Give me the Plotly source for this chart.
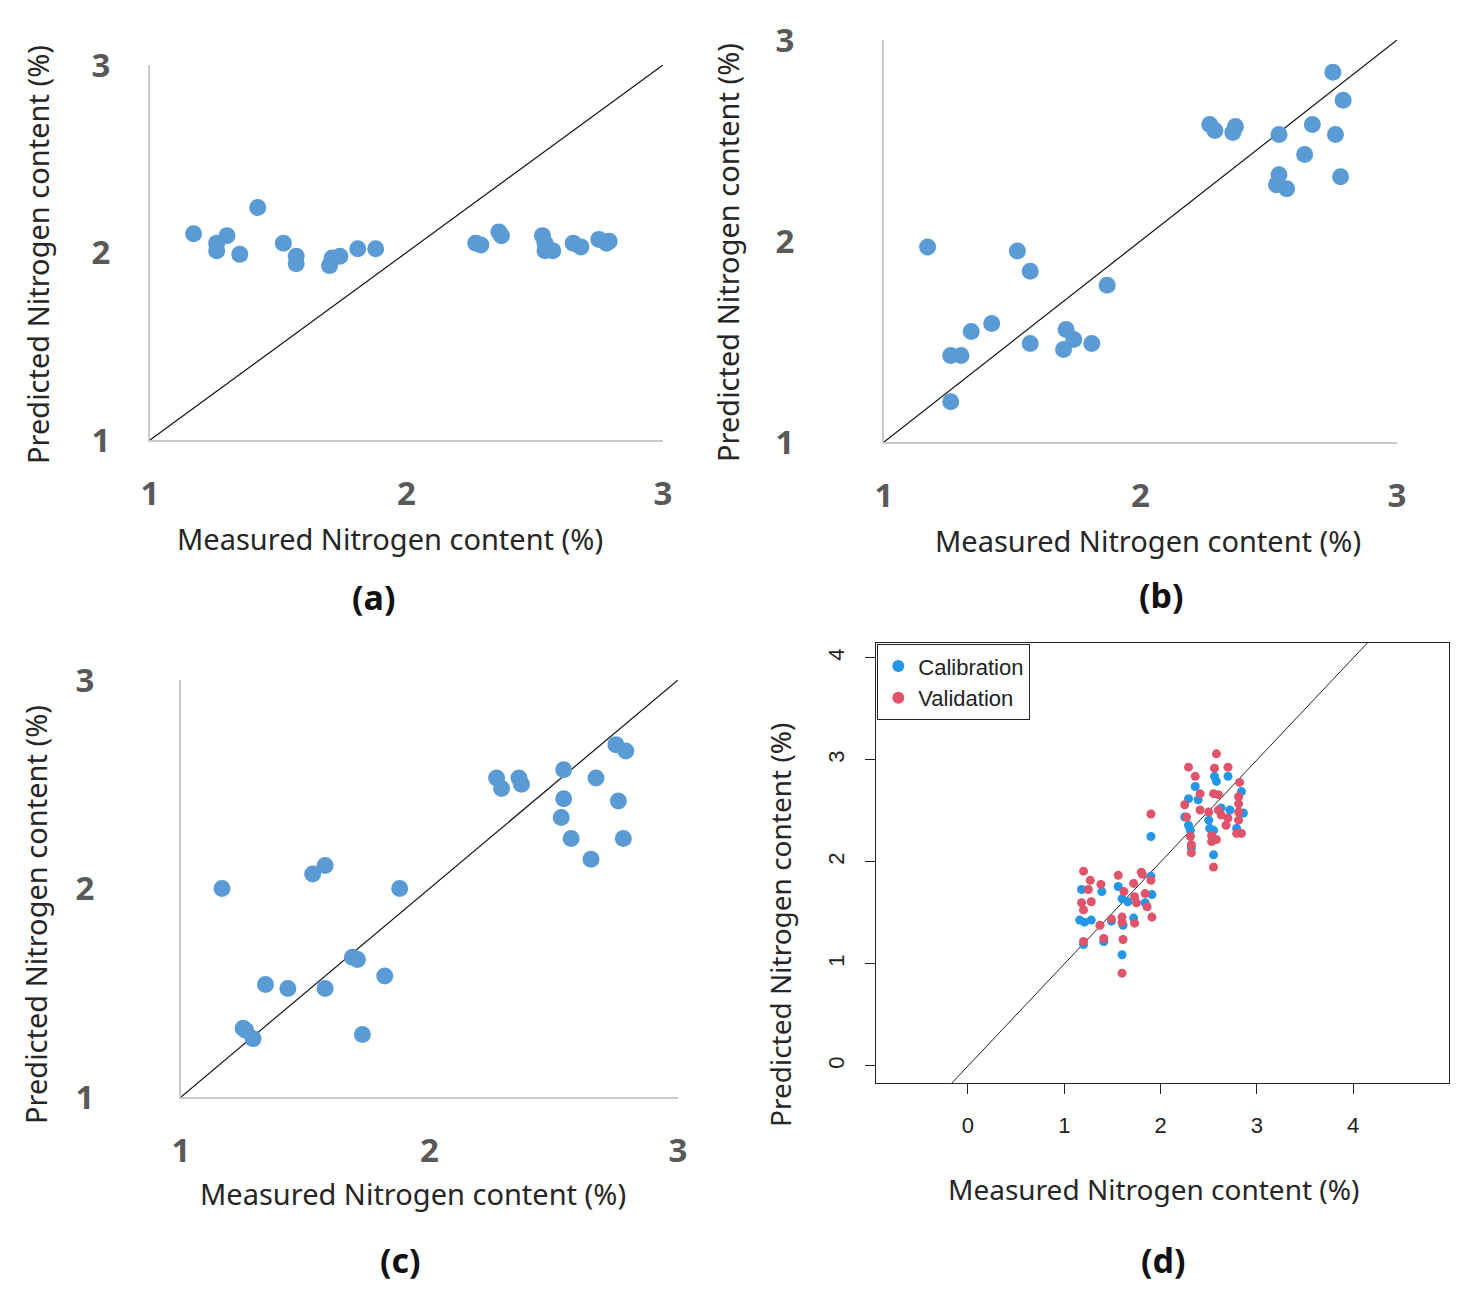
import plotly.graph_objects as go

W, H = 1479, 1297
PAD = 8  # page body margin in the browser

# panel (a)
a_meas = [1.17, 1.26, 1.26, 1.30, 1.35, 1.42, 1.52, 1.57, 1.57, 1.70, 1.71, 1.74, 1.81, 1.88,
          2.27, 2.29, 2.36, 2.37, 2.53, 2.54, 2.54, 2.57, 2.65, 2.68, 2.75, 2.78, 2.79]
a_pred = [2.10, 2.01, 2.05, 2.09, 1.99, 2.24, 2.05, 1.98, 1.94, 1.93, 1.97, 1.98, 2.02, 2.02,
          2.05, 2.04, 2.11, 2.09, 2.09, 2.05, 2.01, 2.01, 2.05, 2.03, 2.07, 2.05, 2.06]

# panel (b)
b_meas = [1.17, 1.26, 1.30, 1.26, 1.34, 1.42, 1.52, 1.57, 1.57, 1.70, 1.71, 1.74, 1.81, 1.87,
          2.27, 2.29, 2.36, 2.37, 2.54, 2.54, 2.53, 2.57, 2.64, 2.67, 2.75, 2.76, 2.79, 2.78]
b_pred = [1.97, 1.43, 1.43, 1.20, 1.55, 1.59, 1.95, 1.85, 1.49, 1.46, 1.56, 1.51, 1.49, 1.78,
          2.58, 2.55, 2.54, 2.57, 2.53, 2.33, 2.28, 2.26, 2.43, 2.58, 2.84, 2.53, 2.70, 2.32]

# panel (c)
c_meas = [1.165, 1.25, 1.26, 1.29, 1.34, 1.43, 1.53, 1.58, 1.58, 1.69, 1.71, 1.73, 1.82, 1.88,
          2.27, 2.29, 2.36, 2.37, 2.54, 2.54, 2.53, 2.57, 2.65, 2.67, 2.75, 2.79, 2.76, 2.78]
c_pred = [2.00, 1.33, 1.32, 1.28, 1.54, 1.52, 2.07, 2.11, 1.52, 1.67, 1.66, 1.30, 1.58, 2.00,
          2.53, 2.48, 2.53, 2.50, 2.57, 2.43, 2.34, 2.24, 2.14, 2.53, 2.69, 2.66, 2.42, 2.24]

# panel (d) calibration / validation
cal_meas = [1.18, 1.39, 1.16, 1.21, 1.28, 1.56, 1.60, 1.61, 1.72, 1.90, 1.91, 1.84, 1.41, 1.20,
            1.60, 1.49, 1.66, 1.90,
            2.56, 2.58, 2.70, 2.36, 2.39, 2.29, 2.63, 2.72, 2.84, 2.86, 2.25, 2.29, 2.31, 2.50,
            2.51, 2.55, 2.79, 2.55, 2.32]
cal_pred = [1.73, 1.71, 1.43, 1.41, 1.43, 1.76, 1.64, 1.38, 1.45, 1.86, 1.68, 1.60, 1.22, 1.19,
            1.09, 1.42, 1.61, 2.25,
            2.84, 2.79, 2.84, 2.74, 2.61, 2.62, 2.53, 2.51, 2.69, 2.48, 2.44, 2.36, 2.31, 2.41,
            2.33, 2.31, 2.33, 2.07, 2.14]
val_meas = [1.20, 1.27, 1.38, 1.25, 1.18, 1.28, 1.20, 1.56, 1.80, 1.81, 1.90, 1.72, 1.62, 1.73,
            1.84, 1.75, 1.86, 1.91, 1.60, 1.60, 1.49, 1.37, 1.41, 1.20, 1.61, 1.73, 1.60, 1.90,
            2.58, 2.29, 2.36, 2.56, 2.70, 2.82, 2.41, 2.55, 2.60, 2.81, 2.81, 2.25, 2.41, 2.50,
            2.63, 2.70, 2.81, 2.27, 2.81, 2.68, 2.79, 2.84, 2.31, 2.32, 2.32, 2.53, 2.53, 2.58,
            2.55, 2.60]
val_pred = [1.91, 1.82, 1.78, 1.73, 1.60, 1.61, 1.53, 1.87, 1.90, 1.88, 1.82, 1.79, 1.71, 1.66,
            1.69, 1.60, 1.56, 1.46, 1.46, 1.41, 1.44, 1.38, 1.25, 1.22, 1.24, 1.40, 0.91, 2.47,
            3.06, 2.93, 2.84, 2.92, 2.93, 2.78, 2.67, 2.67, 2.66, 2.64, 2.57, 2.56, 2.51, 2.49,
            2.46, 2.43, 2.49, 2.44, 2.41, 2.36, 2.28, 2.28, 2.25, 2.17, 2.09, 2.26, 2.20, 2.22,
            1.95, 2.51]

excel_ticks = [1, 2, 3]
r_ticks = [0, 1, 2, 3, 4]
diag_abc = [1, 3.03]
diag_d = [-1, 5]

x_title = "Measured Nitrogen content (%)"
y_title = "Predicted Nitrogen content (%)"

BLUE_XL = "#5B9BD5"
BLUE_R = "#2297E6"
RED_R = "#DF536B"
FONT = "Noto Sans"

FW, FH = W - 2 * PAD, H - 2 * PAD


def px(x, y):
    # screen pixel -> paper coords of the figure
    return (x - PAD) / FW, 1 - (y - PAD) / FH


def dom(x0, x1, y0, y1):
    # pixel box -> paper domains (y0 top, y1 bottom)
    a, b = px(x0, y1)
    c, d = px(x1, y0)
    return [a, c], [b, d]


fig = go.Figure()

panels = [
    ("x", "y", a_meas, a_pred),
    ("x2", "y2", b_meas, b_pred),
    ("x3", "y3", c_meas, c_pred),
]
for xa, ya, xs, ys in panels:
    fig.add_trace(go.Scatter(x=diag_abc, y=diag_abc, mode="lines", xaxis=xa, yaxis=ya,
                             line=dict(color="#111111", width=1.2), showlegend=False,
                             cliponaxis=False))
    fig.add_trace(go.Scatter(x=xs, y=ys, mode="markers", xaxis=xa, yaxis=ya,
                             marker=dict(color=BLUE_XL, size=17), showlegend=False,
                             cliponaxis=False))

fig.add_trace(go.Scatter(x=diag_d, y=diag_d, mode="lines", xaxis="x4", yaxis="y4",
                         line=dict(color="#222222", width=1), showlegend=False))
fig.add_trace(go.Scatter(x=cal_meas, y=cal_pred, mode="markers", xaxis="x4", yaxis="y4",
                         name="Calibration", marker=dict(color=BLUE_R, size=9)))
fig.add_trace(go.Scatter(x=val_meas, y=val_pred, mode="markers", xaxis="x4", yaxis="y4",
                         name="Validation", marker=dict(color=RED_R, size=9)))

tick_font = dict(family=FONT, size=33, color="#595959", weight="bold")


def excel_axes(xdom, ydom, xstand, ystand, anchor_x, anchor_y):
    common = dict(range=[1, 3], tickvals=excel_ticks, showgrid=False, zeroline=False,
                  showline=True, linecolor="#C8C8C8", linewidth=2, ticks="",
                  tickfont=tick_font, automargin=False)
    xa = dict(domain=xdom, ticklabelstandoff=xstand, anchor=anchor_y, **common)
    ya = dict(domain=ydom, ticklabelstandoff=ystand, anchor=anchor_x, **common)
    return xa, ya


xd, yd = dom(150, 663, 65, 440)
xa1, ya1 = excel_axes(xd, yd, 23, 31, "x", "y")
xd, yd = dom(884, 1397, 40, 442)
xa2, ya2 = excel_axes(xd, yd, 23, 81, "x2", "y2")
xd, yd = dom(181, 678, 680, 1097)
xa3, ya3 = excel_axes(xd, yd, 23, 78, "x3", "y3")

xd, yd = dom(876, 1449, 643, 1083)
r_font = dict(family="Liberation Sans", size=22, color="#222222")
xa4 = dict(domain=xd, range=[-0.955, 4.995], tickvals=r_ticks, showgrid=False, zeroline=False,
           showline=True, mirror=True, linecolor="#222222", linewidth=1.3, ticks="outside",
           ticklen=10, tickcolor="#222222", tickfont=r_font, ticklabelstandoff=12,
           anchor="y4", automargin=False)
ya4 = dict(domain=yd, range=[-0.167, 4.147], tickvals=r_ticks, showgrid=False, zeroline=False,
           showline=True, mirror=True, linecolor="#222222", linewidth=1.3, ticks="outside",
           ticklen=10, tickcolor="#222222", tickfont=r_font, tickangle=-90,
           ticklabelstandoff=12, anchor="x4", automargin=False)

title_font = dict(family=FONT, size=29, color="#262626")
title_font_d = dict(family=FONT, size=28, color="#262626")
cap_font = dict(family=FONT, size=34, color="#111111", weight="bold")

annotations = []
labels = [
    # (text, x px, y px, angle, font)
    (x_title, 390, 538, 0, title_font),
    (y_title, 37, 255, -90, title_font),
    ("(a)", 373, 597, 0, cap_font),
    (x_title, 1148, 540, 0, title_font),
    (y_title, 727, 253, -90, title_font),
    ("(b)", 1161, 595, 0, cap_font),
    (x_title, 413, 1193, 0, title_font),
    (y_title, 35, 915, -90, title_font),
    ("(c)", 400, 1260, 0, cap_font),
    (x_title, 1153, 1189, 0, title_font_d),
    (y_title, 780, 925, -90, title_font_d),
    ("(d)", 1163, 1260, 0, cap_font),
]
for text, x, y, ang, f in labels:
    ax, ay = px(x, y)
    annotations.append(dict(text=text, x=ax, y=ay, xref="paper", yref="paper", showarrow=False,
                            xanchor="center", yanchor="middle", textangle=ang, font=f))

lx, ly = px(877, 644)
fig.update_layout(
    width=FW, height=FH, margin=dict(l=0, r=0, t=0, b=0),
    paper_bgcolor="white", plot_bgcolor="white",
    xaxis=xa1, yaxis=ya1, xaxis2=xa2, yaxis2=ya2, xaxis3=xa3, yaxis3=ya3,
    xaxis4=xa4, yaxis4=ya4,
    annotations=annotations,
    legend=dict(x=lx, y=ly, xanchor="left", yanchor="top", bgcolor="white",
                bordercolor="#222222", borderwidth=1.3,
                font=dict(family="Liberation Sans", size=22, color="#222222"),
                itemsizing="constant", tracegroupgap=0),
)

fig.write_html("out.html")
